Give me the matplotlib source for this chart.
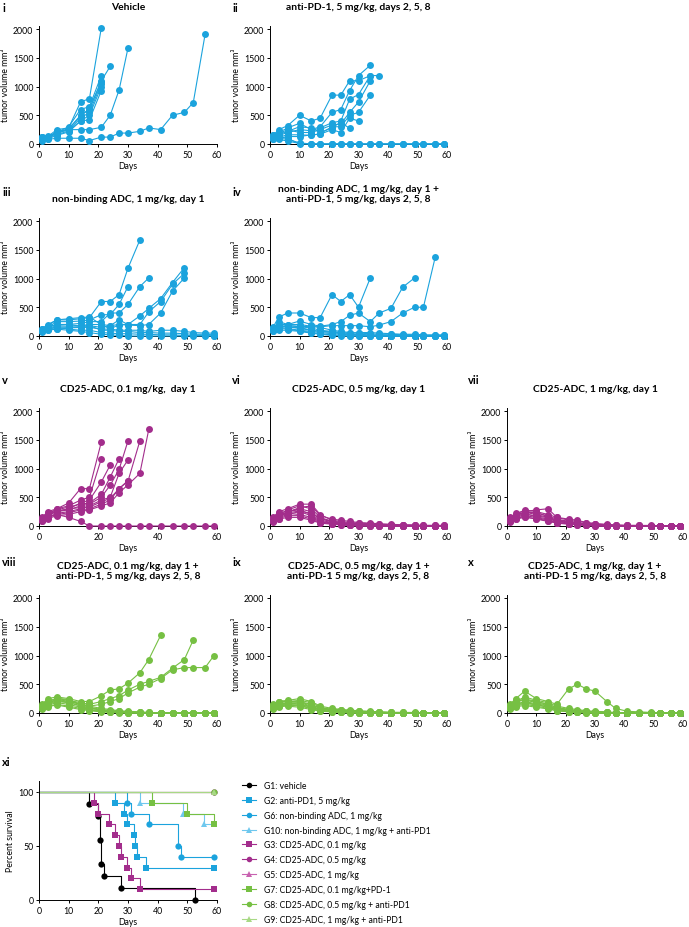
import matplotlib
matplotlib.use("Agg")
import matplotlib.pyplot as plt
from matplotlib.lines import Line2D

plt.rcParams['font.family'] = ['Lato', 'DejaVu Sans']

W, H = 689, 928

# ---------------- data ----------------
DAYS = [1, 3, 6, 10, 14, 17, 21, 24, 27, 30, 34, 37, 41, 45, 49, 52, 56, 59]

VEHICLE = [
    [120, 130, 250, 280, 730, 790, 2020],
    [100, 140, 200, 300, 600, 650, 1190],
    [90, 120, 180, 260, 500, 600, 1100, 1350],
    [110, 100, 220, 240, 450, 550, 1050],
    [80, 110, 160, 230, 400, 500, 1000],
    [130, 90, 150, 210, 400, 420, 930],
    [120, 110, 200, 270, 480, 620, 1080],
    [100, 120, 190, 250, 250, 250, 290, 500, 940, 1670],
    [60, 80, 100, 100, 100, 60, 120, 120, 190, 190, 220, 280, 250, 500, 550, 720, 1910],
]

ANTI_PD1 = [
    [150, 250, 320, 500, 400, 450, 850, 850, 1100, 1100, 1190],
    [120, 200, 280, 360, 250, 300, 550, 600, 930, 1190, 1370],
    [100, 150, 200, 250, 230, 280, 370, 400, 780, 860, 1190, 1190],
    [130, 180, 250, 200, 200, 250, 330, 350, 550, 730, 1100],
    [80, 120, 160, 160, 150, 180, 300, 300, 500, 550, 850],
    [90, 100, 130, 130, 160, 170, 250, 200, 450, 400],
    [110, 170, 220, 300, 280, 200, 280, 380, 270],
    [100, 80, 50, 10, 0, 0, 0, 0, 0, 0, 0, 0, 0, 0, 0, 0, 0, 0],
    [150, 120, 100, 0, 0, 0, 0, 0, 0, 0, 0, 0, 0, 0, 0, 0, 0, 0],
    [120, 100, 80, 20, 0, 0, 0, 0, 0, 0, 0, 0, 0, 0, 0, 0, 0, 0],
]

NONBINDING = [
    [120, 180, 280, 280, 300, 320, 600, 600, 720, 1180, 1670],
    [110, 150, 250, 250, 260, 280, 370, 370, 550, 860],
    [100, 160, 200, 200, 220, 250, 250, 400, 400, 550, 860, 1010],
    [90, 130, 180, 170, 180, 200, 200, 180, 280, 200, 350, 480, 650, 930, 1190],
    [100, 120, 160, 150, 160, 180, 150, 180, 200, 200, 200, 420, 600, 900, 1090],
    [80, 110, 130, 140, 150, 150, 120, 120, 200, 190, 180, 200, 400, 780, 1010],
    [130, 200, 280, 300, 320, 330, 200, 120, 100, 100, 100, 80, 100, 100, 80, 60, 50, 50],
    [100, 150, 200, 200, 170, 180, 100, 100, 80, 80, 60, 60, 50, 50, 40, 30, 30, 20],
    [90, 120, 150, 120, 100, 100, 60, 50, 40, 40, 30, 30, 20, 20, 10, 10, 10, 0],
    [70, 100, 120, 100, 80, 60, 30, 20, 10, 0, 0, 0, 0, 0, 0, 0, 0, 0],
]

NONBINDING_PD1 = [
    [150, 330, 400, 400, 320, 320, 720, 600, 720, 500, 1010],
    [130, 250, 200, 260, 200, 170, 200, 250, 360, 400, 250, 400, 480, 850, 1010],
    [120, 200, 180, 170, 160, 160, 180, 180, 180, 180, 160, 190, 250, 400, 500, 500, 1370],
    [140, 200, 200, 200, 170, 150, 100, 80, 60, 50, 40, 30, 30, 20, 20, 10, 10, 10],
    [100, 180, 150, 150, 100, 80, 60, 40, 30, 20, 10, 0, 0, 0, 0, 0, 0, 0],
    [110, 150, 130, 100, 80, 60, 40, 30, 20, 10, 0, 0, 0, 0, 0, 0, 0, 0],
    [90, 130, 120, 90, 60, 40, 20, 10, 0, 0, 0, 0, 0, 0, 0, 0, 0, 0],
    [120, 170, 160, 130, 100, 80, 70, 60, 50, 60, 60, 50, 40, 30, 30, 20, 20, 20],
    [100, 140, 180, 160, 140, 100, 80, 60, 40, 30, 20, 20, 10, 10, 0, 0, 0, 0],
    [80, 100, 100, 80, 50, 30, 10, 0, 0, 0, 0, 0, 0, 0, 0, 0, 0, 0],
]

CD25_01 = [
    [150, 250, 300, 400, 650, 650, 1460],
    [120, 200, 300, 350, 450, 500, 1170],
    [100, 180, 250, 300, 400, 450, 765, 1060],
    [130, 220, 280, 330, 380, 400, 550, 850, 1170],
    [110, 200, 250, 280, 350, 380, 500, 710, 985, 1480],
    [90, 150, 220, 250, 300, 350, 450, 500, 915, 1150],
    [100, 170, 200, 230, 280, 300, 380, 450, 650, 780, 1480],
    [80, 130, 180, 200, 250, 280, 350, 400, 580, 715, 915, 1680],
    [120, 200, 260, 300, 320, 330, 420, 480, 650, 790],
    [100, 150, 200, 150, 80, 0, 0, 0, 0, 0, 0, 0, 0, 0, 0, 0, 0, 0],
]

CD25_05 = [
    [150, 250, 300, 380, 380, 200, 100, 80, 60, 50, 40, 30, 20, 20, 10, 10, 10, 10],
    [120, 200, 280, 350, 300, 150, 80, 60, 50, 40, 30, 20, 20, 10, 10, 0, 0, 0],
    [100, 180, 250, 300, 250, 120, 90, 60, 40, 30, 20, 20, 10, 10, 0, 0, 0, 0],
    [130, 220, 260, 280, 200, 100, 60, 40, 30, 20, 10, 10, 0, 0, 0, 0, 0, 0],
    [90, 150, 200, 250, 180, 80, 50, 30, 20, 10, 10, 0, 0, 0, 0, 0, 0, 0],
    [110, 170, 220, 200, 150, 70, 40, 30, 20, 10, 0, 0, 0, 0, 0, 0, 0, 0],
    [80, 130, 180, 180, 120, 60, 40, 20, 10, 0, 0, 0, 0, 0, 0, 0, 0, 0],
    [100, 160, 240, 320, 350, 180, 120, 100, 80, 60, 50, 40, 30, 20, 20, 10, 10, 10],
    [70, 120, 150, 150, 100, 50, 30, 20, 10, 0, 0, 0, 0, 0, 0, 0, 0, 0],
    [140, 200, 230, 260, 220, 130, 70, 50, 40, 30, 20, 10, 0, 0, 0, 0, 0, 0],
]

CD25_1 = [
    [150, 200, 280, 250, 200, 150, 100, 80, 60, 40, 20, 10, 10, 0, 0, 0, 0, 0],
    [120, 180, 250, 280, 300, 150, 120, 100, 60, 40, 30, 20, 10, 10, 0, 0, 0, 0],
    [100, 170, 240, 200, 150, 100, 70, 50, 30, 20, 10, 0, 0, 0, 0, 0, 0, 0],
    [130, 220, 260, 220, 180, 120, 80, 60, 40, 30, 20, 10, 10, 10, 10, 0, 0, 0],
    [90, 150, 200, 180, 140, 90, 60, 40, 20, 10, 0, 0, 0, 0, 0, 0, 0, 0],
    [110, 160, 220, 160, 120, 80, 50, 30, 20, 10, 0, 0, 0, 0, 0, 0, 0, 0],
    [80, 130, 180, 150, 100, 60, 40, 20, 10, 0, 0, 0, 0, 0, 0, 0, 0, 0],
    [100, 140, 160, 120, 80, 50, 30, 20, 10, 0, 0, 0, 0, 0, 0, 0, 0, 0],
    [70, 120, 150, 130, 90, 60, 40, 30, 20, 10, 0, 0, 0, 0, 0, 0, 0, 0],
    [140, 200, 230, 240, 160, 100, 80, 50, 30, 20, 10, 0, 0, 0, 0, 0, 0, 0],
]

CD25_01_PD1 = [
    [150, 250, 280, 250, 200, 200, 300, 400, 420, 520, 700, 930, 1350],
    [120, 200, 250, 220, 180, 150, 200, 250, 300, 400, 500, 550, 620, 780, 930, 1270],
    [100, 180, 220, 200, 150, 120, 150, 200, 250, 350, 450, 500, 600, 750, 790, 790, 790, 1000],
    [130, 200, 260, 230, 150, 100, 60, 40, 30, 20, 10, 0, 0, 0, 0, 0, 0, 0],
    [110, 160, 200, 180, 120, 80, 50, 30, 20, 10, 0, 0, 0, 0, 0, 0, 0, 0],
    [90, 140, 180, 150, 100, 60, 40, 20, 10, 0, 0, 0, 0, 0, 0, 0, 0, 0],
    [100, 170, 240, 200, 160, 120, 80, 60, 40, 30, 20, 10, 0, 0, 0, 0, 0, 0],
    [80, 120, 150, 120, 80, 50, 30, 20, 10, 0, 0, 0, 0, 0, 0, 0, 0, 0],
    [120, 190, 220, 180, 130, 90, 60, 40, 30, 20, 10, 10, 0, 0, 0, 0, 0, 0],
    [70, 110, 140, 100, 60, 40, 20, 10, 0, 0, 0, 0, 0, 0, 0, 0, 0, 0],
]

CD25_05_PD1 = [
    [150, 200, 220, 250, 200, 120, 80, 60, 40, 30, 20, 20, 10, 10, 0, 0, 0, 0],
    [120, 180, 200, 220, 180, 100, 60, 50, 40, 30, 20, 10, 10, 0, 0, 0, 0, 0],
    [100, 150, 180, 200, 150, 80, 50, 40, 30, 20, 10, 0, 0, 0, 0, 0, 0, 0],
    [130, 200, 210, 180, 120, 70, 40, 30, 20, 10, 0, 0, 0, 0, 0, 0, 0, 0],
    [90, 140, 160, 150, 100, 60, 40, 20, 10, 0, 0, 0, 0, 0, 0, 0, 0, 0],
    [110, 160, 170, 160, 110, 50, 30, 20, 10, 0, 0, 0, 0, 0, 0, 0, 0, 0],
    [80, 120, 140, 120, 80, 40, 20, 10, 0, 0, 0, 0, 0, 0, 0, 0, 0, 0],
    [100, 130, 150, 130, 90, 60, 70, 60, 50, 40, 30, 20, 10, 10, 10, 0, 0, 0],
    [70, 110, 120, 100, 60, 30, 20, 10, 0, 0, 0, 0, 0, 0, 0, 0, 0, 0],
    [140, 190, 200, 190, 140, 90, 60, 40, 30, 20, 10, 10, 0, 0, 0, 0, 0, 0],
]

CD25_1_PD1 = [
    [150, 250, 380, 250, 200, 150, 420, 500, 420, 380, 200, 80, 30, 20, 10, 0, 0, 0],
    [120, 200, 280, 220, 180, 120, 80, 60, 40, 30, 20, 10, 0, 0, 0, 0, 0, 0],
    [100, 180, 250, 200, 150, 100, 60, 40, 30, 20, 10, 0, 0, 0, 0, 0, 0, 0],
    [130, 220, 230, 180, 130, 80, 50, 30, 20, 10, 0, 0, 0, 0, 0, 0, 0, 0],
    [90, 150, 200, 160, 120, 70, 40, 20, 10, 0, 0, 0, 0, 0, 0, 0, 0, 0],
    [110, 160, 180, 150, 100, 60, 30, 20, 10, 0, 0, 0, 0, 0, 0, 0, 0, 0],
    [80, 130, 150, 120, 80, 40, 20, 10, 0, 0, 0, 0, 0, 0, 0, 0, 0, 0],
    [100, 140, 170, 140, 100, 60, 40, 30, 20, 10, 10, 0, 0, 0, 0, 0, 0, 0],
    [70, 110, 130, 100, 70, 40, 20, 10, 0, 0, 0, 0, 0, 0, 0, 0, 0, 0],
    [140, 200, 220, 200, 150, 90, 60, 40, 30, 20, 10, 0, 0, 0, 0, 0, 0, 0],
]

# survival: (event days, percent after event); last point = end of follow-up
SURV_LABELS = ["G1: vehicle", "G2: anti-PD1, 5 mg/kg", "G6: non-binding ADC, 1 mg/kg",
               "G10: non-binding ADC, 1 mg/kg + anti-PD1", "G3: CD25-ADC, 0.1 mg/kg",
               "G4: CD25-ADC, 0.5 mg/kg", "G5: CD25-ADC, 1 mg/kg", "G7: CD25-ADC, 0.1 mg/kg+PD-1",
               "G8: CD25-ADC, 0.5 mg/kg + anti-PD1", "G9: CD25-ADC, 1 mg/kg + anti-PD1"]
SURV_T = [
    [0, 17, 20, 20.5, 21, 22, 27.5, 52.5],
    [0, 25.5, 28.5, 29.5, 32, 32.5, 33, 36, 59],
    [0, 29.5, 31, 37, 47, 48, 59],
    [0, 34, 48.5, 55.5, 59],
    [0, 18.5, 20, 23.5, 25.5, 27, 27.5, 29.5, 31, 34, 59],
    [0, 59],
    [0, 59],
    [0, 38, 50, 59],
    [0, 59],
    [0, 59],
]
SURV_P = [
    [100, 88.9, 77.8, 55.6, 33.3, 22.2, 11.1, 0],
    [100, 90, 80, 70, 60, 50, 40, 30, 30],
    [100, 90, 80, 70, 50, 40, 40],
    [100, 90, 80, 70, 70],
    [100, 90, 80, 70, 60, 50, 40, 30, 20, 10, 10],
    [100, 100],
    [100, 100],
    [100, 90, 80, 70],
    [100, 100],
    [100, 100],
]

BLUE = "#1ba3dd"
LBLUE = "#6fc8ee"
PURPLE = "#a32d8c"
LPURPLE = "#c862b0"
GREEN = "#76c043"
LGREEN = "#a8d985"
SURV_COLORS = ["black", BLUE, BLUE, LBLUE, PURPLE, PURPLE, LPURPLE, GREEN, GREEN, LGREEN]
SURV_MARKERS = ["o", "s", "o", "^", "s", "o", "^", "s", "o", "^"]

# ---------------- figure ----------------
fig = plt.figure(figsize=(W / 100, H / 100), dpi=100)


def add_ax(x0, x1, y0px, ytop_px, ymax_val, ylim_top):
    scale = (y0px - ytop_px) / ymax_val
    top_px = y0px - ylim_top * scale
    ax = fig.add_axes([x0 / W, 1 - y0px / H, (x1 - x0) / W, (y0px - top_px) / H])
    return ax


def style(ax):
    for s in ["top", "right"]:
        ax.spines[s].set_visible(False)
    for s in ["left", "bottom"]:
        ax.spines[s].set_linewidth(0.7)
    ax.tick_params(axis="both", labelsize=6.3, width=0.7, length=2.5, pad=1.5)


def tumor_panel(x0, x1, y0px, ytop_px, mice, color, title, xticks):
    ax = add_ax(x0, x1, y0px, ytop_px, 2000, 2060)
    for m in mice:
        ax.plot(DAYS[:len(m)], m, color=color, lw=0.8, marker="o", ms=5,
                mew=0, clip_on=False, zorder=3)
    ax.set_xlim(0, 60)
    ax.set_ylim(0, 2060)
    ax.set_yticks([0, 500, 1000, 1500, 2000])
    ax.set_xticks(xticks)
    style(ax)
    ax.set_xlabel("Days", fontsize=6.3, labelpad=1.5)
    ax.set_ylabel("tumor volume mm³", fontsize=6.3, labelpad=2)
    cx = (x0 + x1) / 2 / W
    ty = 1 - (ytop_px - 18) / H
    fig.text(cx, ty, title, ha="center", va="bottom", fontsize=7.4,
             fontweight="bold", linespacing=1.2)
    return ax


T10 = list(range(0, 61, 10))
T20 = [0, 20, 40, 60]

C1 = (39, 217)
C2 = (270, 447)
C3 = (507, 683)

tumor_panel(*C1, 145, 30, VEHICLE, BLUE, "Vehicle", T10)
tumor_panel(*C2, 145, 30, ANTI_PD1, BLUE, "anti-PD-1, 5 mg/kg, days 2, 5, 8", T10)
tumor_panel(*C1, 337, 222, NONBINDING, BLUE, "non-binding ADC, 1 mg/kg, day 1", T10)
tumor_panel(*C2, 337, 222, NONBINDING_PD1, BLUE,
            "non-binding ADC, 1 mg/kg, day 1 +\nanti-PD-1, 5 mg/kg, days 2, 5, 8", T10)
tumor_panel(*C1, 527, 412, CD25_01, PURPLE, "CD25-ADC, 0.1 mg/kg,  day 1", T20)
tumor_panel(*C2, 527, 412, CD25_05, PURPLE, "CD25-ADC, 0.5 mg/kg, day 1", T10)
tumor_panel(*C3, 527, 412, CD25_1, PURPLE, "CD25-ADC, 1 mg/kg, day 1", T10)
tumor_panel(*C1, 714, 599, CD25_01_PD1, GREEN,
            "CD25-ADC, 0.1 mg/kg, day 1 +\nanti-PD-1, 5 mg/kg, days 2, 5, 8", T10)
tumor_panel(*C2, 714, 599, CD25_05_PD1, GREEN,
            "CD25-ADC, 0.5 mg/kg, day 1 +\nanti-PD-1 5 mg/kg, days 2, 5, 8", T10)
tumor_panel(*C3, 714, 599, CD25_1_PD1, GREEN,
            "CD25-ADC, 1 mg/kg, day 1 +\nanti-PD-1 5 mg/kg, days 2, 5, 8", T10)

# panel labels
for lab, (px, py) in {"i": (2, 9), "ii": (232, 9), "iii": (2, 192), "iv": (232, 192),
                      "v": (2, 380), "vi": (232, 380), "vii": (468, 380),
                      "viii": (2, 562), "ix": (232, 562), "x": (468, 562),
                      "xi": (2, 763)}.items():
    fig.text(px / W, 1 - py / H, lab, fontsize=8, fontweight="bold", va="center", ha="left")

# survival
ax = add_ax(39, 217, 901, 793, 100, 110)
handles = []
for t, p, c, mk, lab in zip(SURV_T, SURV_P, SURV_COLORS, SURV_MARKERS, SURV_LABELS):
    ax.step(t, p, where="post", color=c, lw=0.8, clip_on=False, zorder=2)
    ax.plot(t[1:], p[1:], ls="none", marker=mk, color=c, ms=4.5, mew=0,
            clip_on=False, zorder=3)
    handles.append(Line2D([], [], color=c, lw=0.8, marker=mk, ms=4, mew=0))
ax.set_xlim(0, 60)
ax.set_ylim(0, 110)
ax.set_yticks([0, 50, 100])
ax.set_xticks(T10)
style(ax)
ax.set_xlabel("Days", fontsize=6.3, labelpad=1.5)
ax.set_ylabel("Percent survival", fontsize=6.3, labelpad=2)

fig.legend(handles, SURV_LABELS, loc="upper left", bbox_to_anchor=(242 / W, 1 - 782 / H),
           frameon=False, fontsize=6.2, labelspacing=0.68, handlelength=1.6,
           handletextpad=0.9, borderaxespad=0, borderpad=0)

fig.savefig("out.png", dpi=100)
